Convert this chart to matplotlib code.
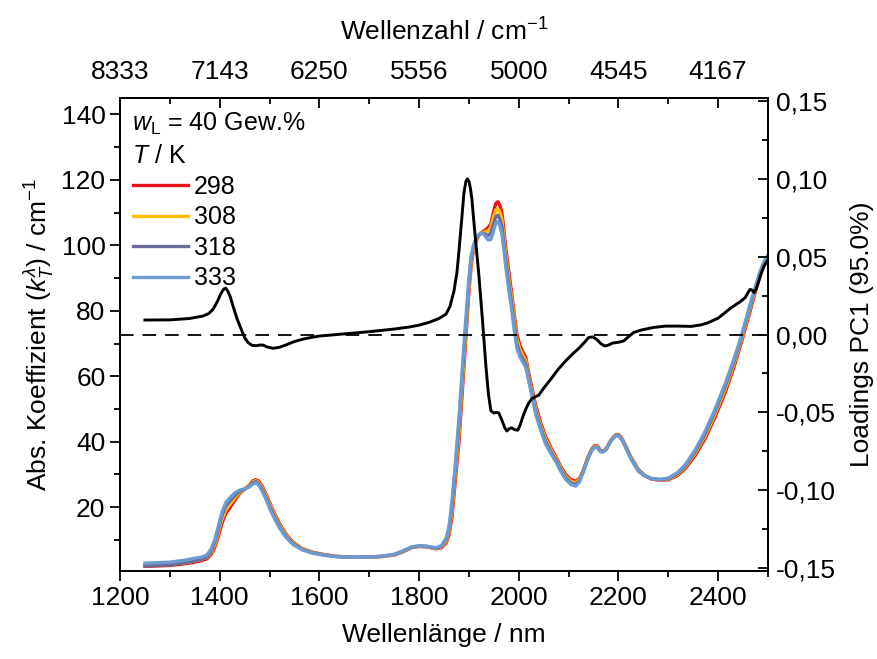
import matplotlib
matplotlib.use("Agg")
import matplotlib.pyplot as plt
from matplotlib.ticker import FuncFormatter, MultipleLocator

plt.rcParams['font.family'] = ['Liberation Sans', 'DejaVu Sans']
plt.rcParams['mathtext.fontset'] = 'custom'
plt.rcParams['mathtext.rm'] = 'Liberation Sans'
plt.rcParams['mathtext.it'] = 'Liberation Sans:italic'
plt.rcParams['mathtext.bf'] = 'Liberation Sans:bold'

# absorption spectra, wavelength in nm
wl = [1250, 1300, 1330, 1350, 1365, 1375, 1383, 1390, 1397, 1404,
      1412, 1420, 1430, 1440, 1450, 1460, 1466, 1472, 1478, 1485,
      1492, 1500, 1510, 1520, 1533, 1547, 1565, 1587, 1610, 1634,
      1665, 1700, 1725, 1750, 1770, 1786, 1800, 1815, 1834, 1845,
      1854, 1860, 1866, 1872, 1880, 1887, 1894, 1899, 1904, 1909,
      1914, 1919, 1924, 1929, 1934, 1939, 1944, 1949, 1954, 1958,
      1962, 1966, 1970, 1974, 1980, 1986, 1991, 1996, 2002, 2008,
      2014, 2020, 2027, 2034, 2044, 2054, 2064, 2074, 2084, 2094,
      2104, 2114, 2122, 2130, 2138, 2146, 2152, 2158, 2164, 2170,
      2176, 2183, 2190, 2196, 2202, 2208, 2214, 2226, 2240, 2252,
      2266, 2285, 2300, 2318, 2334, 2354, 2374, 2394, 2414, 2430,
      2446, 2456, 2466, 2476, 2484, 2492, 2500]
k_298 = [1.9, 2.2, 2.7, 3.2, 3.7, 4.3, 5.6, 7.7, 11.0, 14.8,
         18.0, 19.7, 22.0, 24.2, 25.5, 26.8, 28.0, 28.4, 28.0, 26.5,
         24.3, 21.5, 18.0, 15.0, 11.8, 9.3, 7.4, 6.2, 5.5, 5.0,
         4.7, 4.7, 4.9, 5.4, 6.5, 7.7, 8.0, 7.9, 7.3, 7.6,
         9.0, 11.5, 17.0, 27.0, 40.0, 56.0, 72.0, 84.0, 93.0, 98.5,
         101.0, 102.8, 103.8, 104.3, 104.8, 105.5, 106.5, 110.0, 112.8, 113.3,
         112.3, 110.0, 105.0, 99.0, 92.0, 85.0, 79.0, 73.0, 69.5, 67.5,
         65.7, 61.0, 56.0, 51.0, 45.8, 41.5, 38.3, 35.5, 32.5, 30.0,
         28.5, 27.9, 28.8, 31.5, 35.0, 37.7, 38.8, 38.7, 37.3, 37.2,
         38.0, 40.0, 41.5, 42.2, 42.0, 40.7, 38.9, 35.0, 31.5, 29.8,
         28.6, 28.2, 28.4, 29.6, 31.8, 35.8, 41.0, 47.6, 55.0, 62.0,
         70.0, 75.5, 81.0, 86.5, 90.5, 94.0, 96.5]
k_308 = [2.2, 2.5, 3.0, 3.6, 4.1, 4.7, 6.2, 8.5, 12.0, 16.0,
         19.1, 20.8, 22.8, 24.5, 25.5, 26.6, 27.7, 28.1, 27.6, 26.0,
         23.8, 21.0, 17.5, 14.6, 11.5, 9.1, 7.3, 6.1, 5.4, 5.0,
         4.7, 4.7, 4.9, 5.5, 6.6, 7.8, 8.1, 8.0, 7.4, 7.8,
         9.5, 12.3, 18.5, 29.0, 42.5, 58.5, 74.0, 85.5, 94.2, 99.0,
         101.4, 102.9, 103.8, 104.0, 104.2, 104.5, 105.5, 108.5, 110.8, 111.2,
         110.2, 108.0, 103.0, 97.0, 90.0, 83.5, 77.5, 71.5, 68.3, 66.4,
         64.7, 60.0, 55.0, 50.0, 45.0, 40.7, 37.7, 35.0, 32.0, 29.5,
         28.0, 27.4, 28.5, 31.3, 34.8, 37.5, 38.6, 38.5, 37.1, 37.1,
         37.9, 39.9, 41.4, 42.1, 41.8, 40.5, 38.7, 34.8, 31.3, 29.7,
         28.7, 28.3, 28.6, 29.9, 32.3, 36.5, 41.8, 48.5, 56.0, 63.0,
         70.8, 76.3, 81.8, 87.1, 91.1, 94.4, 96.7]
k_318 = [2.0, 2.4, 3.0, 3.6, 4.1, 4.9, 6.6, 9.2, 13.0, 17.2,
         20.2, 21.8, 23.5, 24.8, 25.5, 26.4, 27.4, 27.8, 27.2, 25.5,
         23.2, 20.4, 17.0, 14.1, 11.1, 8.9, 7.1, 6.0, 5.4, 4.9,
         4.7, 4.8, 5.0, 5.5, 6.7, 7.8, 8.1, 8.0, 7.5, 8.0,
         10.0, 13.2, 20.0, 30.5, 45.0, 61.0, 76.0, 86.8, 95.3, 99.5,
         101.7, 103.0, 103.7, 103.7, 103.3, 103.0, 103.8, 106.5, 108.8, 109.2,
         108.0, 105.8, 101.0, 95.2, 88.2, 81.7, 75.8, 70.0, 67.1, 65.3,
         63.7, 59.2, 54.2, 49.2, 44.2, 39.9, 37.1, 34.5, 31.5, 29.0,
         27.5, 26.9, 28.1, 31.1, 34.6, 37.3, 38.4, 38.3, 37.0, 37.0,
         37.8, 39.8, 41.3, 42.0, 41.7, 40.3, 38.5, 34.6, 31.1, 29.6,
         28.7, 28.4, 28.7, 30.2, 32.6, 37.0, 42.5, 49.3, 56.9, 63.8,
         71.4, 76.9, 82.4, 87.6, 91.6, 94.7, 96.8]
k_333 = [2.9, 3.2, 3.8, 4.4, 4.8, 5.5, 7.3, 10.0, 14.0, 18.2,
         21.3, 22.8, 24.3, 25.2, 25.6, 26.2, 27.0, 27.4, 26.8, 25.0,
         22.7, 19.7, 16.5, 13.6, 10.8, 8.6, 7.0, 5.9, 5.3, 4.9,
         4.7, 4.8, 5.0, 5.6, 6.8, 7.9, 8.2, 8.1, 7.6, 8.3,
         10.5, 14.0, 21.8, 32.0, 47.3, 63.0, 78.0, 88.0, 96.4, 100.0,
         102.0, 103.2, 103.7, 103.4, 102.5, 101.6, 101.8, 104.2, 106.8, 107.3,
         106.0, 103.5, 99.0, 93.3, 86.5, 80.0, 74.0, 68.8, 66.0, 64.3,
         62.7, 58.5, 53.5, 48.4, 43.5, 39.2, 36.5, 34.0, 31.0, 28.5,
         27.0, 26.4, 27.8, 31.0, 34.5, 37.2, 38.3, 38.2, 36.9, 36.9,
         37.8, 39.8, 41.2, 41.9, 41.6, 40.2, 38.4, 34.5, 31.0, 29.6,
         28.8, 28.5, 28.9, 30.5, 33.0, 37.5, 43.2, 50.0, 57.7, 64.5,
         72.0, 77.5, 83.0, 88.0, 92.0, 95.0, 97.0]
temps = ['298', '308', '318', '333']
colors = ['#e8141c', '#ffbf00', '#6b6b9a', '#6c9bd2']

# PC1 loadings
wl_pc = [1250, 1300, 1340, 1367, 1378, 1387, 1395, 1402, 1408, 1412,
         1416, 1421, 1427, 1435, 1443, 1450, 1457, 1465, 1473, 1480,
         1487, 1495, 1507, 1520, 1533, 1550, 1567, 1585, 1600, 1650,
         1700, 1750, 1780, 1800, 1820, 1840, 1854, 1862, 1870, 1876,
         1880, 1885, 1890, 1894, 1897, 1900, 1903, 1906, 1910, 1915,
         1920, 1927, 1934, 1939, 1944, 1950, 1955, 1960, 1966, 1972,
         1976, 1981, 1986, 1992, 1998, 2003, 2008, 2014, 2020, 2026,
         2033, 2040, 2050, 2066, 2080, 2094, 2108, 2120, 2132, 2140,
         2148, 2156, 2165, 2173, 2180, 2188, 2200, 2210, 2220, 2230,
         2246, 2270, 2294, 2320, 2346, 2366, 2380, 2400, 2426, 2444,
         2454, 2460, 2464, 2468, 2472, 2476, 2480, 2486, 2492, 2500]
pc1 = [0.0093, 0.0094, 0.0103, 0.0119, 0.0135, 0.0163, 0.021, 0.026, 0.0292, 0.0298,
       0.028, 0.0245, 0.018, 0.010, 0.0035, -0.002, -0.0052, -0.0070, -0.0072, -0.0068,
       -0.0068, -0.0080, -0.0089, -0.0082, -0.0067, -0.0045, -0.003, -0.0018, -0.001, 0.0004,
       0.0018, 0.0035, 0.0048, 0.006, 0.0078, 0.0103, 0.0131, 0.018, 0.0279, 0.040,
       0.0535, 0.072, 0.091, 0.0985, 0.1, 0.0985, 0.094, 0.087, 0.072, 0.055,
       0.038, 0.010, -0.020, -0.038, -0.049, -0.0505, -0.0500, -0.0505, -0.055, -0.060,
       -0.062, -0.0605, -0.060, -0.0612, -0.0615, -0.058, -0.053, -0.048, -0.044, -0.0413,
       -0.0400, -0.0390, -0.0345, -0.028, -0.022, -0.017, -0.0125, -0.009, -0.005, -0.002,
       -0.0015, -0.003, -0.006, -0.0074, -0.0068, -0.0055, -0.0050, -0.0042, -0.0015, 0.0012,
       0.0029, 0.0045, 0.0054, 0.0054, 0.0052, 0.0062, 0.0076, 0.0105, 0.0172, 0.021,
       0.0236, 0.027, 0.029, 0.0285, 0.027, 0.029, 0.033, 0.039, 0.044, 0.048]

xticks = [1200, 1400, 1600, 1800, 2000, 2200, 2400]

fig = plt.figure(figsize=(8.77, 6.59), dpi=100)
ax = fig.add_axes([120 / 877, 1 - 571 / 659, 648 / 877, 473 / 659])
ax2 = ax.twinx()

for k, t, c in zip([k_298, k_308, k_318, k_333], temps, colors):
    ax.plot(wl, k, color=c, lw=2.4, label=t, solid_joinstyle='round')

ax2.axhline(0, color='black', lw=1.3, ls=(0, (7.5, 5)))
ax2.plot(wl_pc, pc1, color='black', lw=2.1, solid_joinstyle='round')

ax.set_xlim(1200, 2500)
ax.set_ylim(0.5, 145)
ax.set_xticks(xticks)
ax.xaxis.set_minor_locator(MultipleLocator(100))
ax.set_yticks([20, 40, 60, 80, 100, 120, 140])
ax.yaxis.set_minor_locator(MultipleLocator(10))
ax2.set_ylim(-0.152, 0.152)
ax2.set_yticks([-0.15, -0.10, -0.05, 0.0, 0.05, 0.10, 0.15])
ax2.yaxis.set_minor_locator(MultipleLocator(0.025))
ax2.yaxis.set_major_formatter(FuncFormatter(lambda v, p: f'{v:.2f}'.replace('.', ',')))

top = ax.secondary_xaxis('top')
top.set_xticks(xticks, labels=[str(round(1e7 / x)) for x in xticks])
top.xaxis.set_minor_locator(MultipleLocator(100))

fs = 19
for a in (ax, ax2):
    for s in a.spines.values():
        s.set_linewidth(1.3)
top.spines['top'].set_linewidth(1.3)
ax.tick_params(axis='both', which='major', direction='out', length=7, width=1.3, labelsize=fs)
ax.tick_params(axis='both', which='minor', direction='out', length=4, width=1.3)
ax2.tick_params(axis='y', which='major', direction='in', length=7, width=1.3, labelsize=fs, pad=6)
ax2.tick_params(axis='y', which='minor', direction='in', length=4, width=1.3)
top.tick_params(axis='x', which='major', direction='in', length=7, width=1.3, labelsize=fs, pad=10)
top.tick_params(axis='x', which='minor', direction='in', length=4, width=1.3)

ax.set_xlabel('Wellenlänge / nm', fontsize=fs, labelpad=10)
ax.set_ylabel(r'Abs. Koeffizient ($k_T^{\lambda}$) / cm$^{-1}$', fontsize=fs, labelpad=4)
ax2.set_ylabel('Loadings PC1 (95.0%)', fontsize=fs, labelpad=10)
top.set_xlabel(r'Wellenzahl / cm$^{-1}$', fontsize=fs, labelpad=14)

handles, labels = ax.get_legend_handles_labels()
leg = ax2.legend(handles, labels, title='$w_\\mathrm{L}$ = 40 Gew.%\n$T$ / K',
                 loc='upper left', frameon=False, fontsize=fs - 1, title_fontsize=fs - 1,
                 handlelength=2.2, handletextpad=0.25, labelspacing=0.26,
                 borderaxespad=0.3, borderpad=0.2, alignment='left')
leg.get_title().set_linespacing(1.4)

fig.savefig('out.png', dpi=100)
